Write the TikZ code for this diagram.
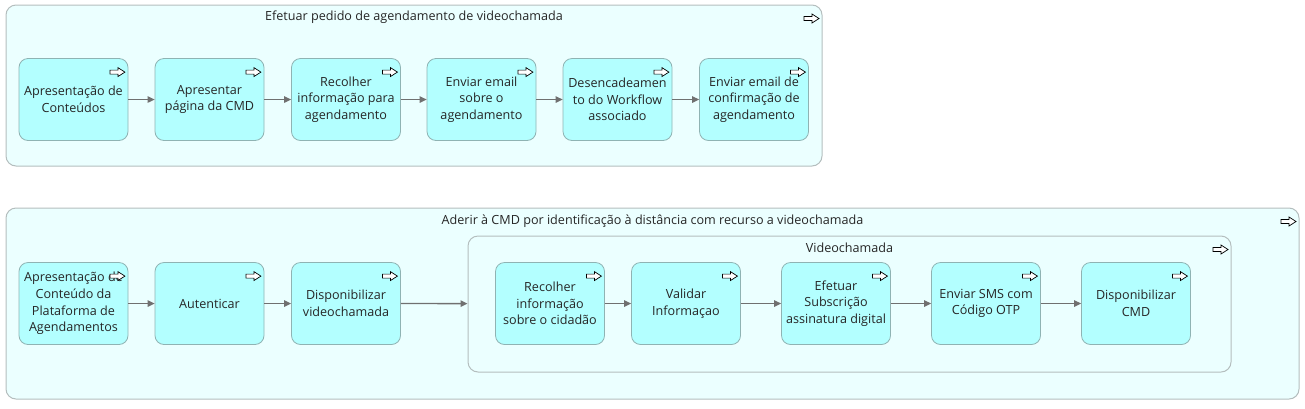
\documentclass[tikz,border=0pt]{standalone}
\usepackage{fontspec}
\setmainfont{Open Sans}
\usetikzlibrary{arrows.meta}
\definecolor{actfill}{HTML}{B3FFFF}
\definecolor{actline}{HTML}{8FB3B3}
\definecolor{grpfill}{HTML}{EBFFFF}
\definecolor{grpline}{HTML}{B4BEBE}
\definecolor{flowline}{HTML}{707070}
\tikzset{
  act/.style={draw=actline, fill=actfill, rounded corners=9pt, line width=0.8pt,
    minimum width=109pt, minimum height=82pt, inner sep=1pt, align=center,
    font=\fontsize{12.6}{16.7}\selectfont, text=black!85},
  grp/.style={draw=grpline, fill=grpfill, rounded corners=10pt, line width=1pt},
  ttl/.style={font=\fontsize{12.6}{14}\selectfont, text=black!85, inner sep=0pt},
  flow/.style={-{Triangle[length=7pt,width=6.5pt]}, draw=flowline, line width=1.3pt},
  pics/goicon/.style={code={
    \draw[line width=0.7pt, fill=white, line join=miter]
      (-7.5,-2) -- (0.5,-2) -- (0.5,-4.5) -- (7.5,0) -- (0.5,4.5) -- (0.5,2) -- (-7.5,2) -- cycle;}}
}
\begin{document}
\begin{tikzpicture}[x=1pt,y=-1pt]
  \useasboundingbox (0,0) rectangle (1305,408);
  % containers
  \node (G0) [grp, minimum width=816pt, minimum height=161pt] at (414,85.5) {};
  \node (G1) [grp, minimum width=1293pt, minimum height=191pt] at (652.5,303.5) {};
  \node (V1) [grp, minimum width=763pt, minimum height=136pt] at (849.5,304) {};
  \node (T0) [ttl] at (414,17) {Efetuar pedido de agendamento de videochamada};
  \node (T1) [ttl] at (652.5,221) {Aderir à CMD por identificação à distância com recurso a videochamada};
  \node (T2) [ttl] at (849.5,248) {Videochamada};
  % first process
  \node (A0_0) [act] at (73.5,99.5) {Apresentação de\\Conteúdos};
  \node (A0_1) [act] at (209.5,99.5) {Apresentar\\página da CMD};
  \node (A0_2) [act] at (346,99.5) {Recolher\\informação para\\agendamento};
  \node (A0_3) [act] at (481.5,99.5) {Enviar email\\sobre o\\agendamento};
  \node (A0_4) [act] at (617.5,99.5) {Desencadeamen\\to do Workflow\\associado};
  \node (A0_5) [act] at (754,99.5) {Enviar email de\\confirmação de\\agendamento};
  % second process
  \node (A1_0) [act] at (73.5,303.5) {Apresentação de\\Conteúdo da\\Plataforma de\\Agendamentos};
  \node (A1_1) [act] at (209.5,303.5) {Autenticar};
  \node (A1_2) [act] at (346,303.5) {Disponibilizar\\videochamada};
  \node (A1_3) [act] at (550,303.5) {Recolher\\informação\\sobre o cidadão};
  \node (A1_4) [act] at (686,303.5) {Validar\\Informaçao};
  \node (A1_5) [act] at (836,303.5) {Efetuar\\Subscrição\\assinatura digital};
  \node (A1_6) [act] at (986,303.5) {Enviar SMS com\\Código OTP};
  \node (A1_7) [act] at (1136,303.5) {Disponibilizar\\CMD};
  \foreach \n in {G0,G1,V1,A0_0,A0_1,A0_2,A0_3,A0_4,A0_5,A1_0,A1_1,A1_2,A1_3,A1_4,A1_5,A1_6,A1_7}
    \pic at ([xshift=-11pt,yshift=-14pt]\n.north east) {goicon};
  \path (A0_0) edge [flow] (A0_1);
  \path (A0_1) edge [flow] (A0_2);
  \path (A0_2) edge [flow] (A0_3);
  \path (A0_3) edge [flow] (A0_4);
  \path (A0_4) edge [flow] (A0_5);
  \path (A1_0) edge [flow] (A1_1);
  \path (A1_1) edge [flow] (A1_2);
  \path (A1_2) edge [flow] (V1);
  \path (A1_3) edge [flow] (A1_4);
  \path (A1_4) edge [flow] (A1_5);
  \path (A1_5) edge [flow] (A1_6);
  \path (A1_6) edge [flow] (A1_7);
\end{tikzpicture}
\end{document}
